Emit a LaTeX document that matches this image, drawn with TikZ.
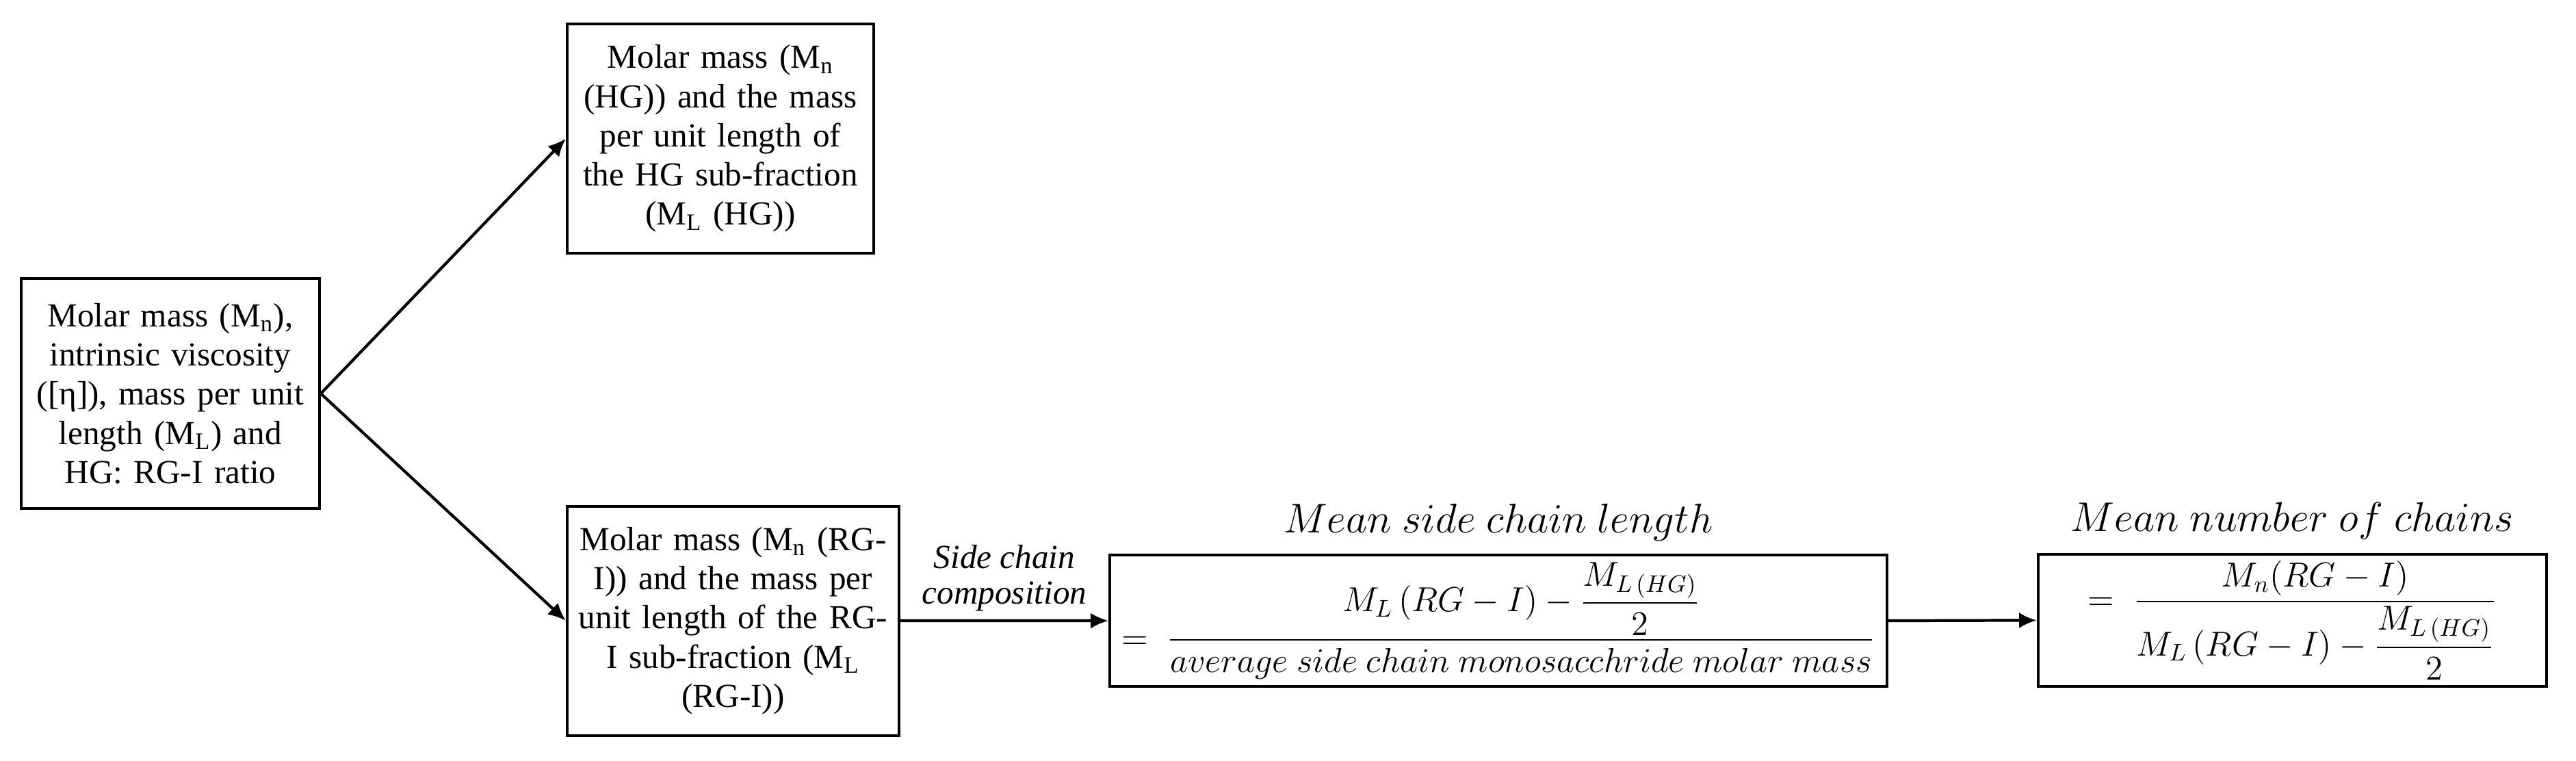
\documentclass[tikz,border=0pt]{standalone}
\usepackage{amsmath}
\usepackage{fontspec}
\setmainfont{Liberation Serif}
\usetikzlibrary{arrows.meta}
\usetikzlibrary{positioning}
\usetikzlibrary{calc}

\begin{document}
\begin{tikzpicture}[>={Latex[length=2.6mm,width=2.3mm]},
	box/.style={draw, line width=1.1pt, anchor=south west, align=center, inner sep=1mm, font=\fontsize{14}{16.3}\selectfont},
	title/.style={font=\fontsize{18}{21}\selectfont, inner sep=1pt}]
			\useasboundingbox (0,0) rectangle (37.65,-11.11);
			
			%coordinates
			\coordinate (LLIn)  at (0.29,-7.45);
			\coordinate (LLHG)  at (8.27,-3.72);
			\coordinate (LLRG)  at (8.27,-10.765);
			\coordinate (LLSCL) at (16.20,-10.05);
			\coordinate (LLNC)  at (29.77,-10.05);
			
			%nodes
			\node[box, minimum width=4.36cm, minimum height=3.36cm, text width=4.1cm] (In) at (LLIn) {Molar mass (M\textsubscript{n}),\\ intrinsic viscosity\\ ([η]), mass per unit\\ length (M\textsubscript{L}) and\\ HG: RG-I ratio};
			\node[box, minimum width=4.48cm, minimum height=3.35cm, text width=4.2cm] (HG) at (LLHG) {Molar mass (M\textsubscript{n}\\ (HG)) and the mass\\ per unit length of\\ the HG sub-fraction\\ (M\textsubscript{L} (HG))};
			\node[box, minimum width=4.85cm, minimum height=3.35cm, text width=4.6cm] (RG) at (LLRG) {Molar mass (M\textsubscript{n} (RG-\\ I)) and the mass per\\ unit length of the RG-\\ I sub-fraction (M\textsubscript{L}\\ (RG-I))};
			\node[box, minimum width=11.36cm, minimum height=1.92cm, font=\fontsize{14.3}{16}\selectfont] (SCL) at (LLSCL) {$= \;\dfrac{M_L\,(RG-I) - \dfrac{M_{L\,(HG)}}{2}}{average\ side\ chain\ monosacchride\ molar\ mass}$};
			\node[box, minimum width=7.43cm, minimum height=1.92cm, font=\fontsize{14.3}{16}\selectfont] (NC) at (LLNC) {$= \;\dfrac{M_n(RG-I)}{M_L\,(RG-I) - \dfrac{M_{L\,(HG)}}{2}}$};
			
			\node[title, above=0.15cm of SCL] (TSCL) {$Mean\ side\ chain\ length$};
			\node[title, above=0.15cm of NC] (TNC) {$Mean\ number\ of\ chains$};
			
			\draw[->, line width=1.2pt] (In.east) -- (HG.west);
			\draw[->, line width=1.2pt] (In.east) -- (RG.west);
			\draw[->, line width=1.2pt] (RG.east) -- node[above, align=center, font=\fontsize{14}{15}\selectfont\itshape]{Side chain\\ composition} (SCL.west);
			\draw[->, line width=1.2pt] (SCL.east) -- (NC.west);
			\end{tikzpicture}
\end{document}
